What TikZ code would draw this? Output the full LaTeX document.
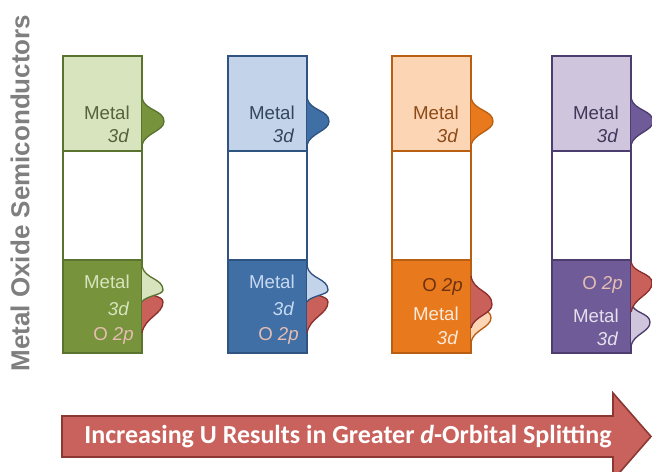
\documentclass[tikz,border=0pt]{standalone}
\usepackage{fontspec}
\setmainfont{Liberation Sans}
\newfontfamily\arrowfont{Carlito}
\definecolor{gL}{HTML}{D7E4BD}
\definecolor{gM}{HTML}{77933C}
\definecolor{gB}{HTML}{5A7430}
\definecolor{gT}{HTML}{56623E}
\definecolor{bL}{HTML}{C3D4EA}
\definecolor{bM}{HTML}{3F6FA5}
\definecolor{bB}{HTML}{2F5482}
\definecolor{bT}{HTML}{34465E}
\definecolor{bTL}{HTML}{C6D9F1}
\definecolor{oL}{HTML}{FCD5B5}
\definecolor{oM}{HTML}{E8791C}
\definecolor{oB}{HTML}{B85F14}
\definecolor{oT}{HTML}{8E4A16}
\definecolor{oTD}{HTML}{6E3212}
\definecolor{oTL}{HTML}{FDE9D9}
\definecolor{pL}{HTML}{CFC6DE}
\definecolor{pM}{HTML}{6E5B98}
\definecolor{pB}{HTML}{4C3D6E}
\definecolor{pT}{HTML}{3F3858}
\definecolor{pTL}{HTML}{E5E0EC}
\definecolor{redB}{HTML}{C9605A}
\definecolor{redD}{HTML}{8C2F2D}
\definecolor{pinkT}{HTML}{E6BDB2}
\definecolor{titleT}{HTML}{7F7F7F}
\definecolor{arrF}{HTML}{C9625C}
\definecolor{arrD}{HTML}{8B3833}
\newcommand\doscolumn[4]{%
  \draw[#4, line width=1.3pt, fill=#2] (#1,56) rectangle ++(79,95);
  \draw[#4, line width=1.3pt, fill=white] (#1,151) rectangle ++(79,109);
  \draw[#4, line width=1.3pt, fill=#3] (#1,260) rectangle ++(79,93);
}
\newcommand\dosbump[7]{%
  \filldraw[fill=#6, draw=#7, line width=1pt, shift={(#1,#2)}, xscale=#5, yscale={#3-#2}]
    (0,0) .. controls (0.12,{0.55*#4}) and (1,{0.5*#4}) .. (1,#4)
          .. controls (1,{#4+0.4*(1-#4)}) and (0.12,{#4+0.5*(1-#4)}) .. (0,1);
}
\tikzset{
  lbl/.style={font=\fontsize{14}{16}\selectfont, anchor=east, inner sep=0pt},
  ilbl/.style={lbl, font=\fontsize{14}{16}\selectfont\itshape}
}
\begin{document}
\begin{tikzpicture}[x=0.75pt,y=-0.75pt]
\useasboundingbox (0,0) rectangle (652,471);
\clip (0,0) rectangle (652,471);

% title
\node[rotate=90, text=titleT, font=\fontsize{19.5}{22}\selectfont\bfseries, inner sep=0pt] (title) at (20,193) {Metal Oxide Semiconductors};

% column 1 (green)
\doscolumn{63}{gL}{gM}{gB}
\dosbump{142}{98}{145}{0.5}{22}{gM}{gB}
\dosbump{142}{288}{333}{0.31}{21}{redB}{redD}
\dosbump{142}{266}{302}{0.67}{21}{gL}{gB}
\node[lbl, text=gT] (m1t) at (130,113) {Metal};
\node[ilbl, text=gT] (d1t) at (129,136) {3d};
\node[lbl, text=gL] (m1b) at (130,282) {Metal};
\node[ilbl, text=gL] (d1b) at (129,309) {3d};
\node[lbl, text=pinkT] (o1b) at (134,336) {O \textit{2p}};

% column 2 (blue)
\doscolumn{228}{bL}{bM}{bB}
\dosbump{307}{98}{145}{0.5}{22}{bM}{bB}
\dosbump{307}{288}{333}{0.31}{21}{redB}{redD}
\dosbump{307}{266}{302}{0.67}{21}{bL}{bB}
\node[lbl, text=bT] (m2t) at (295,113) {Metal};
\node[ilbl, text=bT] (d2t) at (294,136) {3d};
\node[lbl, text=bTL] (m2b) at (295,282) {Metal};
\node[ilbl, text=bTL] (d2b) at (294,309) {3d};
\node[lbl, text=pinkT] (o2b) at (299,336) {O \textit{2p}};

% column 3 (orange)
\doscolumn{392}{oL}{oM}{oB}
\dosbump{471}{98}{145}{0.5}{22}{oM}{oB}
\dosbump{471}{298}{342}{0.45}{20}{oL}{oB}
\dosbump{471}{276}{328}{0.55}{21}{redB}{redD}
\node[lbl, text=oT] (m3t) at (459,113) {Metal};
\node[ilbl, text=oT] (d3t) at (458,136) {3d};
\node[lbl, text=oTD] (o3b) at (463,287) {O \textit{2p}};
\node[lbl, text=oTL] (m3b) at (459,314) {Metal};
\node[ilbl, text=oTL] (d3b) at (458,338) {3d};

% column 4 (purple)
\doscolumn{552}{pL}{pM}{pB}
\dosbump{631}{98}{145}{0.5}{22}{pM}{pB}
\dosbump{631}{303}{346}{0.45}{19}{pL}{pB}
\dosbump{631}{262}{312}{0.42}{21}{redB}{redD}
\node[lbl, text=pT] (m4t) at (619,113) {Metal};
\node[ilbl, text=pT] (d4t) at (618,136) {3d};
\node[lbl, text=pinkT] (o4b) at (623,285) {O \textit{2p}};
\node[lbl, text=pTL] (m4b) at (619,316) {Metal};
\node[ilbl, text=pTL] (d4b) at (618,339) {3d};

% arrow
\filldraw[fill=arrF, draw=arrD, line width=1.2pt, line join=miter]
  (62,416) -- (613,416) -- (613,393) -- (651,436.5) -- (613,480) -- (613,457) -- (62,457) -- cycle;
\node[text=white, font=\arrowfont\fontsize{19.5}{22}\selectfont\bfseries, inner sep=0pt] (arrtext) at (348,437) {Increasing U Results in Greater \textit{d}-Orbital Splitting};
\end{tikzpicture}
\end{document}
